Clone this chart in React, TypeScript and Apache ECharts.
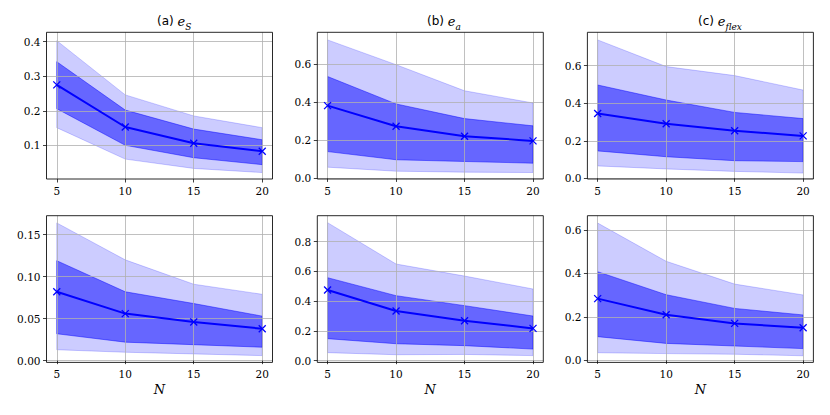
import React, { useEffect, useRef } from "react";
import * as echarts from "echarts";

const N = [5, 10, 15, 20];

// (a) e_S, top row
const aMedian = [0.275, 0.153, 0.106, 0.083];
const aInnerLow = [0.206, 0.1, 0.064, 0.044];
const aInnerHigh = [0.342, 0.202, 0.147, 0.116];
const aOuterLow = [0.151, 0.06, 0.033, 0.021];
const aOuterHigh = [0.403, 0.246, 0.185, 0.151];

// (b) e_a, top row
const bMedian = [0.382, 0.274, 0.221, 0.197];
const bInnerLow = [0.141, 0.098, 0.089, 0.08];
const bInnerHigh = [0.535, 0.391, 0.314, 0.276];
const bOuterLow = [0.059, 0.038, 0.033, 0.031];
const bOuterHigh = [0.727, 0.597, 0.46, 0.396];

// (c) e_flex, top row
const cMedian = [0.345, 0.291, 0.253, 0.226];
const cInnerLow = [0.146, 0.115, 0.094, 0.089];
const cInnerHigh = [0.497, 0.417, 0.351, 0.318];
const cOuterLow = [0.066, 0.05, 0.037, 0.028];
const cOuterHigh = [0.737, 0.595, 0.547, 0.47];

// bottom row, column 1
const dMedian = [0.082, 0.056, 0.046, 0.038];
const dInnerLow = [0.032, 0.022, 0.019, 0.016];
const dInnerHigh = [0.119, 0.082, 0.068, 0.053];
const dOuterLow = [0.013, 0.01, 0.008, 0.006];
const dOuterHigh = [0.164, 0.12, 0.091, 0.079];

// bottom row, column 2
const eMedian = [0.475, 0.334, 0.269, 0.217];
const eInnerLow = [0.148, 0.114, 0.101, 0.078];
const eInnerHigh = [0.558, 0.437, 0.37, 0.3];
const eOuterLow = [0.054, 0.04, 0.042, 0.034];
const eOuterHigh = [0.928, 0.65, 0.569, 0.482];

// bottom row, column 3
const fMedian = [0.284, 0.21, 0.17, 0.15];
const fInnerLow = [0.109, 0.078, 0.066, 0.054];
const fInnerHigh = [0.408, 0.302, 0.239, 0.209];
const fOuterLow = [0.035, 0.031, 0.028, 0.021];
const fOuterHigh = [0.632, 0.456, 0.351, 0.301];

// tick labels
const xTicks = [5, 10, 15, 20];
const aTicks = [0.1, 0.2, 0.3, 0.4];
const bTicks = [0, 0.2, 0.4, 0.6];
const cTicks = [0, 0.2, 0.4, 0.6];
const dTicks = [0, 0.05, 0.1, 0.15];
const eTicks = [0, 0.2, 0.4, 0.6, 0.8];
const fTicks = [0, 0.2, 0.4, 0.6];

const panels = [
  { med: aMedian, il: aInnerLow, ih: aInnerHigh, ol: aOuterLow, oh: aOuterHigh, ticks: aTicks, dec: 1, min: 0.0024, max: 0.4272 },
  { med: bMedian, il: bInnerLow, ih: bInnerHigh, ol: bOuterLow, oh: bOuterHigh, ticks: bTicks, dec: 1, min: -0.003, max: 0.767 },
  { med: cMedian, il: cInnerLow, ih: cInnerHigh, ol: cOuterLow, oh: cOuterHigh, ticks: cTicks, dec: 1, min: -0.0036, max: 0.7776 },
  { med: dMedian, il: dInnerLow, ih: dInnerHigh, ol: dOuterLow, oh: dOuterHigh, ticks: dTicks, dec: 2, min: -0.0021, max: 0.1726 },
  { med: eMedian, il: eInnerLow, ih: eInnerHigh, ol: eOuterLow, oh: eOuterHigh, ticks: eTicks, dec: 1, min: -0.0116, max: 0.9748 },
  { med: fMedian, il: fInnerLow, ih: fInnerHigh, ol: fOuterLow, oh: fOuterHigh, ticks: fTicks, dec: 1, min: -0.0095, max: 0.6658 },
];

const colLeft = [46.5, 317.3, 587.4];
const rowTop = [32.3, 215.7];
const gridW = 226;
const gridH = 146.7;

const serif = "DejaVu Serif";
const sans = "DejaVu Sans";

export default function App() {
  const ref = useRef<HTMLDivElement>(null);
  useEffect(() => {
    if (!ref.current) return;
    const chart = echarts.init(ref.current, null, { renderer: "svg" });

    const grids: any[] = [];
    const xAxes: any[] = [];
    const yAxes: any[] = [];
    const series: any[] = [];

    panels.forEach((p, i) => {
      const row = Math.floor(i / 3);
      const col = i % 3;
      grids.push({
        left: colLeft[col],
        top: rowTop[row],
        width: gridW,
        height: gridH,
        show: true,
        borderColor: "#111",
        borderWidth: 0.9,
        backgroundColor: "transparent",
        outerBoundsMode: "none",
        containLabel: false,
        z: 4,
      });
      xAxes.push({
        type: "value",
        gridIndex: i,
        min: 4.25,
        max: 20.75,
        z: 3,
        axisLine: { show: false },
        axisTick: { show: true, length: 3.5, inside: false, customValues: xTicks, lineStyle: { color: "#111", width: 0.8 } },
        axisLabel: { customValues: xTicks, margin: 6, fontFamily: serif, fontSize: 10.5, color: "#000" },
        splitLine: { show: true, lineStyle: { color: "#b0b0b0", width: 0.8 } },
        name: row === 1 ? "N" : "",
        nameLocation: "middle",
        nameGap: 21,
        nameTextStyle: { fontFamily: serif, fontStyle: "italic", fontSize: 13, color: "#000" },
      });
      yAxes.push({
        type: "value",
        gridIndex: i,
        min: p.min,
        max: p.max,
        z: 3,
        axisLine: { show: false },
        axisTick: { show: true, length: 3.5, inside: false, customValues: p.ticks, lineStyle: { color: "#111", width: 0.8 } },
        axisLabel: {
          customValues: p.ticks,
          margin: 6,
          fontFamily: serif,
          fontSize: 10.5,
          color: "#000",
          formatter: (v: number) => v.toFixed(p.dec),
        },
        splitLine: { show: true, lineStyle: { color: "#b0b0b0", width: 0.8 } },
      });

      const band = (low: number[], high: number[], fill: string, stroke: string) => ({
        type: "custom",
        xAxisIndex: i,
        yAxisIndex: i,
        z: 1,
        silent: true,
        clip: true,
        data: [[N[0], low[0]]],
        renderItem: (_params: any, api: any) => {
          const pts: number[][] = [];
          for (let k = 0; k < N.length; k++) pts.push(api.coord([N[k], high[k]]));
          for (let k = N.length - 1; k >= 0; k--) pts.push(api.coord([N[k], low[k]]));
          return {
            type: "polygon",
            shape: { points: pts },
            style: { fill, stroke, lineWidth: 0.9 },
          };
        },
      });

      series.push(band(p.ol, p.oh, "rgba(0,0,255,0.2)", "rgba(0,0,255,0.22)"));
      series.push(band(p.il, p.ih, "rgba(0,0,255,0.5)", "rgba(0,0,255,0.5)"));
      series.push({
        type: "line",
        xAxisIndex: i,
        yAxisIndex: i,
        z: 6,
        silent: true,
        data: N.map((x, k) => [x, p.med[k]]),
        lineStyle: { color: "#0000ff", width: 2 },
        itemStyle: { color: "#0000ff", borderColor: "#0000ff", borderWidth: 1.3 },
        symbol: "path://M0,0L10,10M0,10L10,0",
        symbolSize: 7,
        showSymbol: true,
      });
    });

    const rich = {
      p: { fontFamily: sans, fontSize: 12, lineHeight: 20, verticalAlign: "middle", fill: "#000" },
      e: { fontFamily: serif, fontStyle: "italic", fontSize: 13, lineHeight: 20, verticalAlign: "middle", fill: "#000" },
      s: { fontFamily: serif, fontStyle: "italic", fontSize: 9, lineHeight: 14, verticalAlign: "bottom", fill: "#000" },
    };
    const titles = [
      { x: 157, text: "{p|(a) }{e|e}{s|S}" },
      { x: 427, text: "{p|(b) }{e|e}{s|a}" },
      { x: 698, text: "{p|(c) }{e|e}{s|flex}" },
    ];

    chart.setOption({
      animation: false,
      backgroundColor: "#fff",
      grid: grids,
      xAxis: xAxes,
      yAxis: yAxes,
      series,
      graphic: titles.map((t) => ({
        type: "text",
        x: t.x,
        y: 21,
        z: 10,
        style: { text: t.text, rich, align: "left", verticalAlign: "middle", fill: "#000" },
      })),
    });
    return () => chart.dispose();
  }, []);
  return (
    <div
      ref={ref}
      style={{ position: "fixed", left: 0, top: 0, width: 830, height: 415, background: "#fff" }}
    />
  );
}
